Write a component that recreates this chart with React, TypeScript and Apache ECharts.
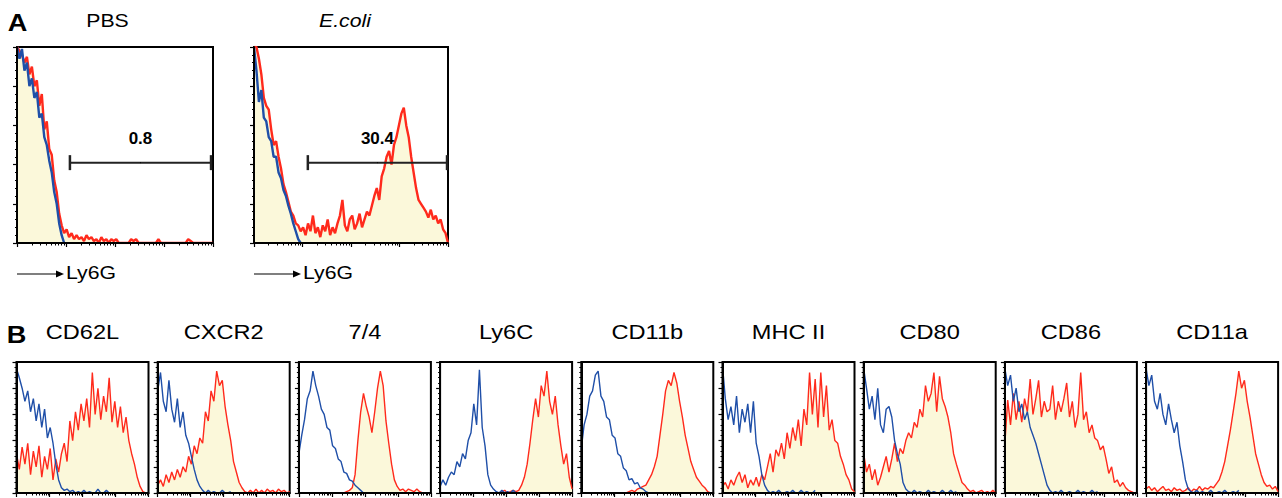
import React, { useEffect, useRef } from "react";
import * as echarts from "echarts";

// ---------- DATA (percent of max count, x = log decades 0..4) ----------
const DECADES = 4;
const N_A = 80;
const N_B = 48;

const panelATitles = ["PBS", "E.coli"];
const axisTitleA = "Ly6G";

const pbsBlue = [100, 94, 99, 88, 92, 80, 84, 74, 77, 64, 66, 54, 50, 42, 36, 26, 20, 10, 4, 0];
const pbsRed = [
  100, 98, 96, 92, 95, 86, 90, 80, 83, 70, 76, 58, 62, 48, 45, 32, 26, 15, 9, 5,
  7, 3, 5, 2, 4, 2, 3, 1, 4, 2, 3, 1, 2, 0, 3, 1, 2, 0, 2, 1,
  2, 0, 0, 0, 0, 0, 2, 1, 2, 0, 0, 0, 0, 0, 0, 0, 0, 2, 0, 0,
  0, 0, 0, 0, 0, 0, 0, 0, 0, 2, 1, 0, 0, 0, 0, 0, 0, 0, 0, 0,
];
const ecoliBlue = [100, 88, 72, 78, 64, 62, 54, 52, 44, 44, 36, 33, 27, 24, 19, 15, 10, 6, 2, 0];
const ecoliRed = [
  100, 100, 94, 86, 74, 70, 68, 58, 50, 52, 44, 38, 30, 26, 21, 16, 14, 10, 9, 6,
  8, 4, 10, 6, 14, 5, 8, 3, 9, 6, 12, 4, 8, 5, 10, 14, 22, 9, 6, 12,
  14, 7, 10, 15, 8, 12, 16, 14, 19, 24, 28, 22, 34, 38, 44, 47, 40, 50, 54, 60,
  66, 69, 60, 54, 44, 36, 28, 22, 20, 18, 16, 13, 17, 12, 14, 10, 12, 7, 5, 0,
];
const gateStart = [1.08, 1.11];
const gateEnd = [3.96, 3.98];
const gateLevel = [41, 41];
const gateLabels = ["0.8", "30.4"];

const markersB = ["CD62L", "CXCR2", "7/4", "Ly6C", "CD11b", "MHC II", "CD80", "CD86", "CD11a"];

const cd62lBlue = [95, 88, 80, 70, 78, 62, 72, 55, 68, 50, 64, 42, 50, 38, 22, 10, 4, 2, 3, 1, 2, 0, 1, 0, 2, 0, 1, 0, 0, 3, 0, 0, 2, 0];
const cd62lRed = [30, 18, 35, 22, 38, 14, 32, 20, 36, 12, 28, 18, 34, 10, 26, 16, 30, 38, 24, 55, 40, 62, 48, 68, 55, 72, 50, 92, 60, 80, 56, 74, 62, 88, 54, 70, 50, 66, 46, 58, 40, 30, 22, 12, 5, 1, 0, 0];
const cxcr2Blue = [78, 92, 70, 62, 86, 64, 54, 72, 50, 62, 44, 38, 28, 18, 10, 5, 2, 0, 2, 0, 1, 0, 0, 2, 0, 0, 1];
const cxcr2Red = [6, 10, 5, 14, 8, 16, 10, 18, 12, 20, 16, 28, 22, 36, 30, 42, 38, 62, 55, 78, 70, 93, 82, 86, 66, 52, 40, 24, 16, 8, 4, 1, 0, 2, 0, 3, 0, 2, 0, 3, 1, 2, 0, 3, 1, 2, 0, 1];
const sevenFourBlue = [30, 44, 56, 72, 78, 93, 82, 74, 64, 60, 50, 48, 36, 34, 26, 24, 16, 15, 10, 9, 6, 4, 2, 0];
const sevenFourRed = [0, 0, 0, 0, 0, 0, 0, 0, 0, 0, 0, 0, 0, 0, 0, 0, 0, 1, 2, 4, 14, 40, 62, 76, 66, 58, 46, 62, 80, 93, 82, 55, 38, 22, 10, 5, 2, 3, 1, 3, 2, 1, 3, 1, 0, 0, 0, 0];
const ly6cBlue = [5, 10, 6, 12, 16, 14, 24, 20, 30, 26, 40, 46, 68, 52, 94, 50, 36, 14, 6, 3, 1, 0, 2, 0, 1, 0, 2, 0];
const ly6cRed = [0, 0, 0, 0, 0, 0, 0, 0, 0, 0, 0, 0, 0, 0, 0, 0, 0, 0, 0, 0, 0, 0, 1, 2, 0, 1, 2, 1, 2, 6, 12, 22, 38, 56, 72, 58, 82, 74, 93, 70, 60, 74, 52, 36, 22, 30, 12, 3];
const cd11bBlue = [34, 52, 60, 74, 78, 90, 93, 74, 70, 58, 56, 44, 42, 30, 28, 19, 17, 10, 11, 7, 8, 4, 3, 1, 0];
const cd11bRed = [0, 0, 0, 0, 0, 0, 0, 0, 0, 0, 0, 0, 0, 0, 0, 0, 0, 1, 2, 1, 3, 4, 5, 6, 10, 14, 20, 28, 44, 60, 78, 86, 82, 92, 84, 70, 58, 44, 34, 24, 18, 12, 9, 6, 4, 1, 0, 0];
const mhcBlue = [97, 72, 56, 66, 52, 74, 46, 64, 54, 68, 46, 70, 38, 28, 14, 6, 2, 0, 1, 0, 2, 0, 0, 1, 0, 2, 0, 0, 2, 0, 1, 0, 0, 2];
const mhcRed = [5, 8, 3, 10, 6, 12, 16, 8, 14, 4, 10, 6, 12, 5, 14, 10, 20, 30, 16, 33, 28, 38, 26, 46, 34, 50, 40, 56, 36, 64, 52, 92, 60, 87, 50, 92, 58, 82, 48, 56, 40, 38, 28, 22, 14, 10, 3, 1];
const cd80Blue = [95, 80, 64, 74, 56, 80, 52, 46, 64, 66, 58, 40, 30, 22, 8, 3, 1, 0, 2, 0, 1, 0, 0, 2, 0, 1, 0, 0, 2, 0, 0, 2, 0, 1];
const cd80Red = [30, 16, 22, 10, 18, 6, 12, 20, 28, 16, 26, 38, 24, 34, 30, 40, 46, 42, 54, 50, 64, 58, 82, 70, 76, 92, 62, 89, 72, 66, 58, 46, 30, 22, 15, 8, 6, 3, 1, 2, 0, 1, 2, 0, 1, 0, 2, 0];
const cd86Blue = [95, 82, 90, 70, 80, 62, 68, 56, 62, 50, 44, 38, 30, 22, 14, 6, 2, 0, 1, 0, 2, 0, 0, 1, 0, 0, 2, 0, 1, 0, 0, 2, 0, 1];
const cd86Red = [38, 71, 52, 76, 56, 70, 54, 72, 62, 87, 60, 72, 86, 58, 70, 62, 64, 82, 56, 70, 62, 72, 84, 58, 70, 50, 60, 92, 56, 62, 46, 52, 42, 40, 33, 36, 26, 15, 20, 8, 10, 5, 8, 4, 2, 1, 0, 0];
const cd11aBlue = [95, 82, 90, 70, 64, 76, 60, 52, 68, 56, 46, 54, 36, 24, 10, 3, 1, 0, 2, 0, 1, 0, 0, 2, 0, 0, 1, 0, 2, 0, 0, 1, 0, 2];
const cd11aRed = [3, 5, 2, 4, 1, 3, 5, 2, 3, 1, 4, 2, 3, 1, 2, 4, 1, 3, 2, 5, 2, 4, 3, 5, 4, 7, 10, 16, 24, 36, 48, 62, 76, 93, 80, 86, 70, 58, 44, 30, 22, 14, 8, 5, 6, 3, 5, 1];

const blueB = [cd62lBlue, cxcr2Blue, sevenFourBlue, ly6cBlue, cd11bBlue, mhcBlue, cd80Blue, cd86Blue, cd11aBlue];
const redB = [cd62lRed, cxcr2Red, sevenFourRed, ly6cRed, cd11bRed, mhcRed, cd80Red, cd86Red, cd11aRed];

// ---------- STYLE ----------
const RED = "#ff2a1c";
const BLUE = "#1f4fa8";
const FILL = "#fbf8da";
const FONT = '"Liberation Sans", Arial, Helvetica, sans-serif';
const STRETCH = 1.18;

const majorTicks = [0, 1, 2, 3, 4];
const minorTicks: number[] = [];
for (let d = 0; d < DECADES; d++) for (let k = 2; k <= 9; k++) minorTicks.push(d + Math.log10(k));

const toXY = (arr: number[], n: number) => arr.map((v, i) => [(i * DECADES) / (n - 1), v]);

export default function App() {
  const ref = useRef<HTMLDivElement>(null);
  useEffect(() => {
    if (!ref.current) return;
    const chart = echarts.init(ref.current, undefined, { renderer: "svg" });

    type Panel = { grid: any; red: number[]; blue: number[]; n: number; lw: number; gate: number };
    const panels: Panel[] = [
      { grid: { left: 17, top: 47, width: 196, height: 196 }, red: pbsRed, blue: pbsBlue, n: N_A, lw: 2.4, gate: 0 },
      { grid: { left: 254, top: 47, width: 194, height: 196 }, red: ecoliRed, blue: ecoliBlue, n: N_A, lw: 2.4, gate: 1 },
    ];
    markersB.forEach((_, i) => {
      panels.push({
        grid: { left: 16.5 + 141.2 * i, top: 362, width: 132, height: 131 },
        red: redB[i],
        blue: blueB[i],
        n: N_B,
        lw: 1.4,
        gate: -1,
      });
    });

    const grids: any[] = [];
    const xAxes: any[] = [];
    const yAxes: any[] = [];
    const series: any[] = [];
    panels.forEach((p, g) => {
      grids.push({ ...p.grid, show: true, borderColor: "#000", borderWidth: 2, backgroundColor: "transparent" });
      xAxes.push({
        gridIndex: g, type: "value", min: 0, max: DECADES, position: "bottom", z: 10,
        axisLine: { show: true, lineStyle: { color: "#000", width: 2 } },
        axisTick: { show: true, customValues: majorTicks, length: 4, lineStyle: { color: "#000", width: 1.2 } },
        axisLabel: { show: false }, splitLine: { show: false },
      });
      xAxes.push({
        gridIndex: g, type: "value", min: 0, max: DECADES, position: "bottom", z: 10,
        axisLine: { show: false },
        axisTick: { show: true, customValues: minorTicks, length: 2.5, lineStyle: { color: "#000", width: 1 } },
        axisLabel: { show: false }, splitLine: { show: false },
      });
      yAxes.push({
        gridIndex: g, type: "value", min: 0, max: 100, interval: 20, z: 10,
        axisLine: { show: true, lineStyle: { color: "#000", width: 2 } },
        axisTick: { show: true, length: 4, lineStyle: { color: "#000", width: 1.2 } },
        minorTick: { show: true, splitNumber: 5, length: 2, lineStyle: { color: "#000", width: 1 } },
        axisLabel: { show: false }, splitLine: { show: false }, minorSplitLine: { show: false },
      });
      series.push({
        type: "line", xAxisIndex: 2 * g, yAxisIndex: g, data: toXY(p.red, p.n),
        symbol: "none", showSymbol: false, z: 2,
        lineStyle: { color: RED, width: p.lw }, areaStyle: { color: FILL, opacity: 1 },
      });
      series.push({
        type: "line", xAxisIndex: 2 * g, yAxisIndex: g, data: toXY(p.blue, p.n),
        symbol: "none", showSymbol: false, z: 3,
        lineStyle: { color: BLUE, width: p.lw },
      });
      if (p.gate >= 0) {
        const k = p.gate;
        series.push({
          type: "line", xAxisIndex: 2 * g, yAxisIndex: g, z: 5, clip: false,
          data: [[gateStart[k], gateLevel[k]], [gateEnd[k], gateLevel[k]]],
          symbol: "rect", symbolSize: [2.5, 15], showSymbol: true,
          lineStyle: { color: "#222", width: 2 }, itemStyle: { color: "#222" },
        });
        series.push({
          type: "scatter", xAxisIndex: 2 * g, yAxisIndex: g, z: 6,
          data: [[(gateStart[k] + gateEnd[k]) / 2, gateLevel[k]]],
          symbolSize: 1, itemStyle: { color: "#000", opacity: 1 },
          label: {
            show: true, position: "top", distance: 15, formatter: gateLabels[k],
            fontSize: 17, fontWeight: "bold", color: "#000", fontFamily: FONT,
            opacity: 1, textBorderWidth: 0,
          },
        });
      }
    });

    const txt = (text: string, x: number, y: number, size: number, o: any = {}) => ({
      type: "text", x, y, scaleX: STRETCH, silent: true, z: 20,
      style: {
        text, fontSize: size, fontFamily: FONT,
        fontWeight: o.bold ? "bold" : "normal", fontStyle: o.italic ? "italic" : "normal",
        fill: "#000", align: o.align || "center", verticalAlign: "middle",
      },
    });

    const graphics: any[] = [
      txt("A", 17.5, 23, 23, { bold: true }),
      txt(panelATitles[0], 107.5, 20.5, 18),
      txt(panelATitles[1], 345, 20.5, 18, { italic: true }),
      txt("B", 16.5, 335, 23, { bold: true }),
    ];
    markersB.forEach((m, i) => {
      graphics.push(txt(m, 16.5 + 141.2 * i + 66, 332, 20));
    });
    [17, 254].forEach((x0) => {
      graphics.push({ type: "line", silent: true, shape: { x1: x0, y1: 274, x2: x0 + 41, y2: 274 }, style: { stroke: "#000", lineWidth: 1.2 } });
      graphics.push({ type: "polygon", silent: true, shape: { points: [[x0 + 39, 270.5], [x0 + 47, 274], [x0 + 39, 277.5]] }, style: { fill: "#000" } });
      graphics.push(txt(axisTitleA, x0 + 49, 273, 18, { align: "left" }));
    });

    chart.setOption({
      animation: false,
      backgroundColor: "#fff",
      grid: grids,
      xAxis: xAxes,
      yAxis: yAxes,
      series,
      graphic: graphics,
    });
    return () => chart.dispose();
  }, []);
  return <div ref={ref} style={{ position: "fixed", left: 0, top: 0, width: 1282, height: 498 }} />;
}
